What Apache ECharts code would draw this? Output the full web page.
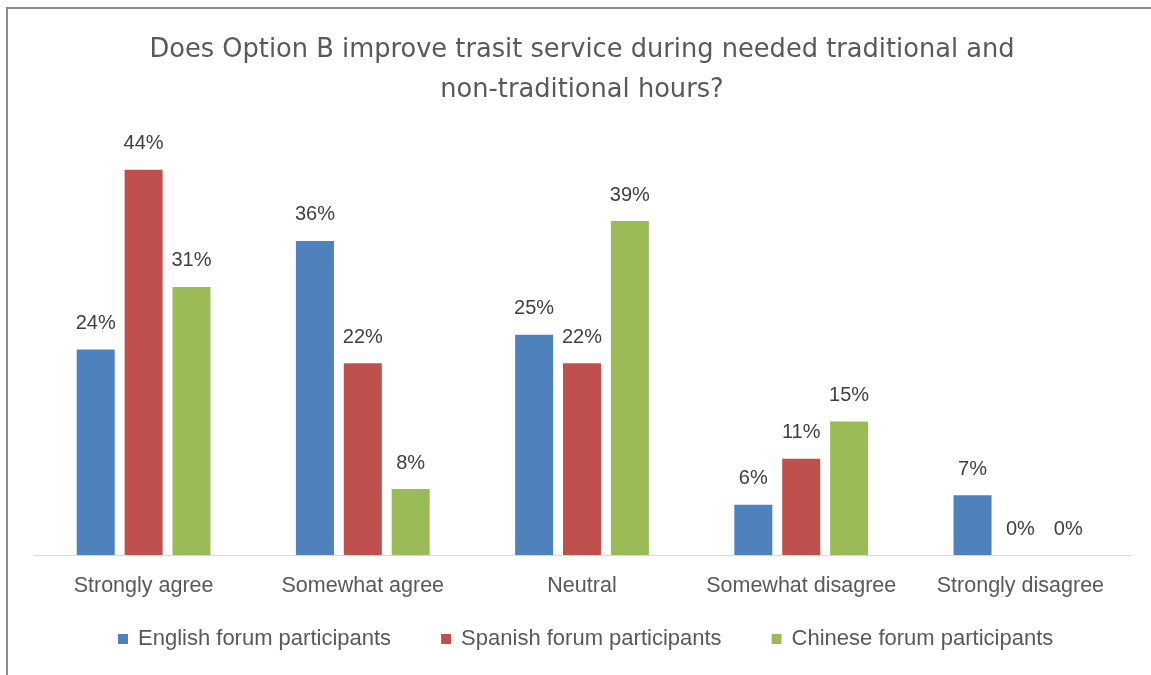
<!DOCTYPE html>
<html>
<head>
<meta charset="utf-8">
<script src="https://cdn.jsdelivr.net/npm/echarts@6/dist/echarts.min.js"></script>
<style>
html,body{margin:0;padding:0;background:#fff;}
#chart{width:1151px;height:675px;}
</style>
</head>
<body>
<div id="chart"></div>
<script>
const titleText = "Does Option B improve trasit service during needed traditional and\nnon-traditional hours?";
const categories = ["Strongly agree", "Somewhat agree", "Neutral", "Somewhat disagree", "Strongly disagree"];
const seriesNames = ["English forum participants", "Spanish forum participants", "Chinese forum participants"];
const englishValues = [23.7, 36.2, 25.4, 5.8, 6.9];
const spanishValues = [44.4, 22.1, 22.1, 11.1, 0];
const chineseValues = [30.9, 7.6, 38.5, 15.4, 0];
const colors = ["#4f81bd", "#c0504d", "#9bbb59"];

const font = "'Liberation Sans', Arial, sans-serif";
const chart = echarts.init(document.getElementById('chart'), null, {renderer: 'canvas'});

function makeSeries(name, data, color) {
  return {
    name: name,
    type: 'bar',
    data: data,
    barWidth: 38,
    barGap: '26%',
    itemStyle: {color: color},
    label: {
      show: true,
      position: 'top',
      distance: 16,
      color: '#404040',
      fontFamily: font,
      fontSize: 20,
      formatter: p => Math.round(p.value) + '%'
    }
  };
}

chart.setOption({
  backgroundColor: '#ffffff',
  animation: false,
  title: {
    text: titleText,
    left: 577,
    textAlign: 'center',
    top: 25,
    textStyle: {
      color: '#595959',
      fontFamily: "'DejaVu Sans', sans-serif",
      fontWeight: 'normal',
      fontSize: 25.7,
      lineHeight: 40
    }
  },
  legend: {
    bottom: 20,
    left: 113,
    itemWidth: 10,
    itemHeight: 10,
    itemGap: 50,
    icon: 'rect',
    textStyle: {color: '#595959', fontFamily: font, fontSize: 22, padding: [0, 0, 0, 5]},
    data: seriesNames
  },
  grid: {left: 34, right: 21, top: 121.25, bottom: 120, containLabel: false},
  xAxis: {
    type: 'category',
    data: categories,
    axisLine: {lineStyle: {color: '#d9d9d9', width: 1}},
    axisTick: {show: false},
    axisLabel: {color: '#595959', fontFamily: font, fontSize: 21.5, margin: 20, interval: 0}
  },
  yAxis: {
    type: 'value',
    min: 0,
    max: 50,
    show: false,
    splitLine: {show: false}
  },
  graphic: [
    {type: 'line', shape: {x1: 7, y1: 8, x2: 7, y2: 675}, style: {stroke: '#8c8c8c', lineWidth: 2}},
    {type: 'line', shape: {x1: 6, y1: 8, x2: 1151, y2: 8}, style: {stroke: '#8c8c8c', lineWidth: 2}}
  ],
  series: [
    makeSeries(seriesNames[0], englishValues, colors[0]),
    makeSeries(seriesNames[1], spanishValues, colors[1]),
    makeSeries(seriesNames[2], chineseValues, colors[2])
  ]
});
</script>
</body>
</html>
